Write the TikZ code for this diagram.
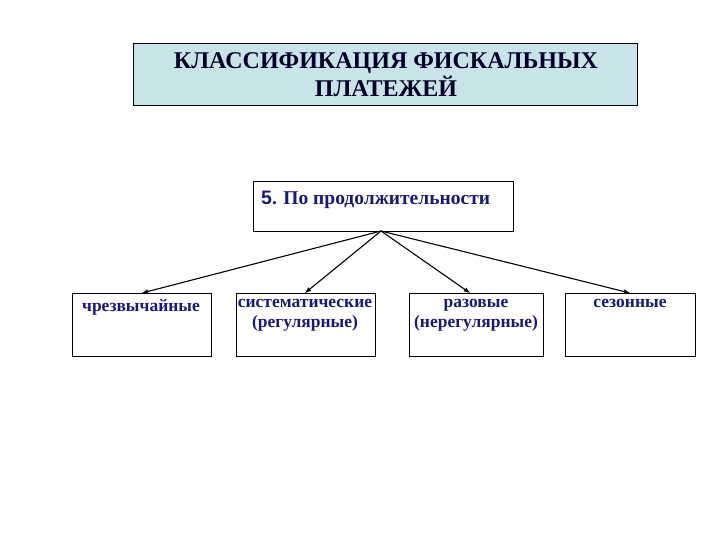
\documentclass[tikz,border=0pt]{standalone}
\usepackage{fontspec}
\setmainfont{Liberation Serif}
\setsansfont{Liberation Sans}
\definecolor{navy}{RGB}{25,25,120}
\definecolor{titlefill}{RGB}{200,228,232}
\begin{document}
\begin{tikzpicture}[x=1pt,y=-1pt,
  box/.style={draw,line width=1.1pt,anchor=north west,inner sep=0pt},
  lbl/.style={text=navy,font=\bfseries\fontsize{17.5}{20}\selectfont,align=center,anchor=north},
  arr/.style={-latex,line width=1.1pt}]
\useasboundingbox (0,0) rectangle (720,540);
\node[box,fill=titlefill,minimum width=504pt,minimum height=62pt] (t) at (133,43) {};
\node[text=black!85!blue,font=\bfseries\fontsize{24}{28}\selectfont,align=center] (tt) at (386,75) {КЛАССИФИКАЦИЯ ФИСКАЛЬНЫХ\\ПЛАТЕЖЕЙ};
\node[box,minimum width=260pt,minimum height=50pt] (m) at (253,181) {};
\node[text=navy,font=\bfseries\fontsize{19.5}{22}\selectfont,anchor=west,inner sep=0pt] (mt) at (261,200) {{\sffamily 5}. По продолжительности};
\coordinate (s) at (381,231);
\node[box,minimum width=139pt,minimum height=63pt] (b1) at (72,293) {};
\node[box,minimum width=139pt,minimum height=63pt] (b2) at (236,293) {};
\node[box,minimum width=134pt,minimum height=63pt] (b3) at (409,293) {};
\node[box,minimum width=130pt,minimum height=63pt] (b4) at (565,293) {};
\node[lbl] (l1) at (141,296) {чрезвычайные};
\node[lbl] (l2) at (305,296) {систематические\\(регулярные)};
\node[lbl] (l3) at (476,296) {разовые\\(нерегулярные)};
\node[lbl] (l4) at (630,296) {сезонные};
\draw[arr] (s) -- (142,293);
\draw[arr] (s) -- (305,293);
\draw[arr] (s) -- (470,293);
\draw[arr] (s) -- (630,293);
\end{tikzpicture}
\end{document}
